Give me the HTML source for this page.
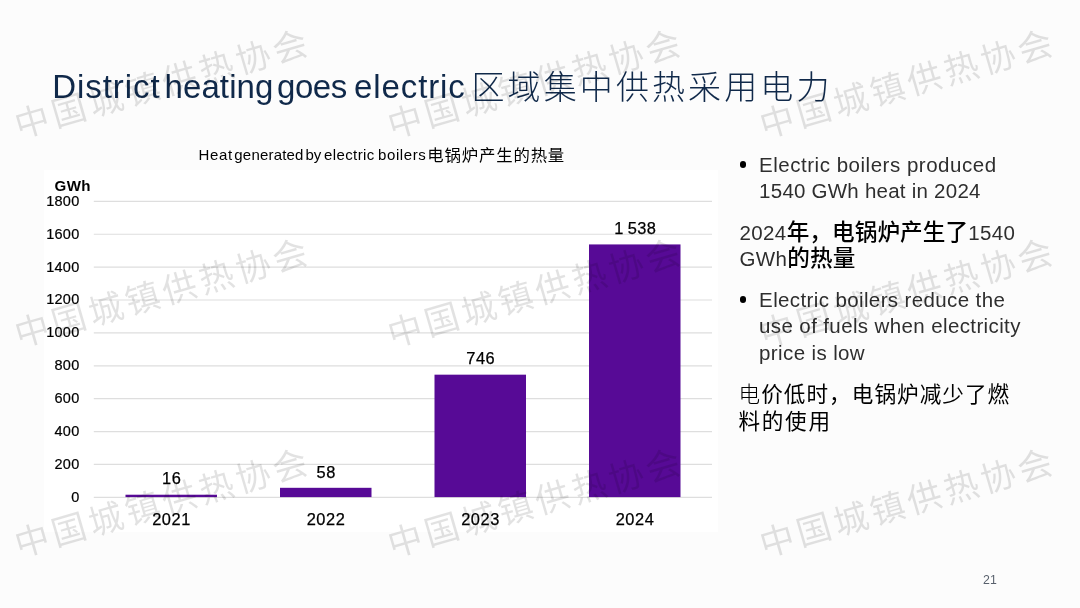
<!DOCTYPE html>
<html lang="en">
<head>
<meta charset="utf-8">
<title>District heating goes electric</title>
<style>
html,body{margin:0;padding:0;background:#fcfcfc;}
body{width:1080px;height:608px;overflow:hidden;position:relative;background:#fcfcfc;
  font-family:"Liberation Sans","Noto Sans CJK SC",sans-serif;color:#111;}
.abs{position:absolute;white-space:nowrap;}
h1{position:absolute;margin:0;left:0;top:67px;width:900px;height:40px;font-weight:400;font-size:33px;line-height:40px;
  color:#10294a;white-space:nowrap;}
h1 span{position:absolute;top:0;}
h1 .cn{font-weight:300;letter-spacing:3.1px;top:1px;}
#panel{position:absolute;left:43.8px;top:170.1px;width:674.7px;height:361.7px;background:#fff;}
#chart-title{left:0;top:145px;width:720px;height:20px;font-size:15px;line-height:20px;color:#000;}
#chart-title span{position:absolute;top:0;}
#chart-title .cn{font-size:16.4px;letter-spacing:0.85px;}
svg text{font-family:"Liberation Sans","Noto Sans CJK SC",sans-serif;fill:#000;}
#notes{position:absolute;left:739.5px;top:151.6px;width:320px;font-size:20.5px;line-height:26.7px;color:#2e2e2e;letter-spacing:0.38px;}
#notes p{margin:0 0 14.6px 0;white-space:nowrap;}
#notes p.b{padding-left:19.6px;position:relative;}
#notes p.b::before{content:"";position:absolute;left:0.2px;top:9.9px;width:6.4px;height:6.4px;border-radius:50%;background:#000;}
#notes .cn{font-size:21.6px;letter-spacing:1.05px;color:#000;line-height:1;}
#notes .lt{font-weight:300;}
#notes .cn2{font-size:22.6px;letter-spacing:0.1px;font-weight:500;}
.wm{position:absolute;white-space:nowrap;font-size:34.5px;line-height:40px;font-weight:400;letter-spacing:3.85px;
  color:rgba(0,0,0,0.115);transform:translate(-50%,-50%) rotate(-16.2deg);}
#pageno{left:982.9px;top:573px;font-size:12.3px;line-height:14px;color:#58606c;letter-spacing:0.3px;}
</style>
</head>
<body>
<h1><span style="left:52.2px;letter-spacing:0.95px">District</span> <span style="left:164.5px;letter-spacing:0.1px">heating</span> <span style="left:277px;letter-spacing:-0.45px">goes</span> <span style="left:354px;letter-spacing:0.9px">electric</span> <span class="cn" style="left:471.5px">区域集中供热采用电力</span></h1>
<div id="panel"></div>
<div id="chart-title" class="abs"><span style="left:198.6px;letter-spacing:0.6px">Heat</span> <span style="left:234.3px;letter-spacing:0.2px">generated</span> <span style="left:305.5px;letter-spacing:-0.2px">by</span> <span style="left:324px;letter-spacing:0.4px">electric</span> <span style="left:378px;letter-spacing:0.6px">boilers</span> <span class="cn" style="left:427.2px">电锅炉产生的热量</span></div>
<svg id="chart" class="abs" style="left:0;top:0" width="1080" height="608" viewBox="0 0 1080 608">
  <g stroke="#dedede" stroke-width="1.2">
    <line x1="93.8" x2="712" y1="201.34" y2="201.34"/>
    <line x1="93.8" x2="712" y1="234.23" y2="234.23"/>
    <line x1="93.8" x2="712" y1="267.12" y2="267.12"/>
    <line x1="93.8" x2="712" y1="300.01" y2="300.01"/>
    <line x1="93.8" x2="712" y1="332.90" y2="332.90"/>
    <line x1="93.8" x2="712" y1="365.79" y2="365.79"/>
    <line x1="93.8" x2="712" y1="398.68" y2="398.68"/>
    <line x1="93.8" x2="712" y1="431.57" y2="431.57"/>
    <line x1="93.8" x2="712" y1="464.46" y2="464.46"/>
    <line x1="93.8" x2="712" y1="497.35" y2="497.35"/>
  </g>
  <g fill="#570a96">
    <rect x="125.50" y="494.72" width="91.5" height="2.38"/>
    <rect x="280.00" y="487.81" width="91.5" height="9.29"/>
    <rect x="434.50" y="374.67" width="91.5" height="122.43"/>
    <rect x="589.00" y="244.43" width="91.5" height="252.67"/>
  </g>
  <g font-size="14.5" text-anchor="end" letter-spacing="0.3" stroke="#000" stroke-width="0.2">
    <text x="79.6" y="205.74">1800</text>
    <text x="79.6" y="238.63">1600</text>
    <text x="79.6" y="271.52">1400</text>
    <text x="79.6" y="304.41">1200</text>
    <text x="79.6" y="337.30">1000</text>
    <text x="79.6" y="370.19">800</text>
    <text x="79.6" y="403.08">600</text>
    <text x="79.6" y="435.97">400</text>
    <text x="79.6" y="468.86">200</text>
    <text x="79.6" y="501.75">0</text>
  </g>
  <text x="54.6" y="190.6" font-size="15.1" font-weight="700" letter-spacing="0.35">GWh</text>
  <g font-size="16.4" text-anchor="middle" letter-spacing="0.55" stroke="#000" stroke-width="0.25">
    <text x="171.75" y="484.42">16</text>
    <text x="326.25" y="477.51">58</text>
    <text x="480.75" y="364.37">746</text>
    <text x="635.25" y="234.13" letter-spacing="0.4" word-spacing="-1">1 538</text>
    <text x="171.55" y="525.4">2021</text>
    <text x="326.05" y="525.4">2022</text>
    <text x="480.55" y="525.4">2023</text>
    <text x="635.05" y="525.4">2024</text>
  </g>
</svg>
<div id="notes">
  <p class="b"><span style="letter-spacing:0.52px">Electric boilers produced</span><br><span style="letter-spacing:0.24px">1540 GWh heat in 2024</span></p>
  <p style="margin-bottom:13.6px">2024<span class="cn cn2">年，电锅炉产生了</span>1540<br>GWh<span class="cn cn2">的热量</span></p>
  <p class="b" style="margin-bottom:14.9px">Electric boilers reduce the<br>use of fuels when electricity<br>price is low</p>
  <p style="margin-left:-1px"><span class="cn"><span class="lt">电</span>价低时，电锅炉减少了燃</span><br><span class="cn" style="position:relative;top:1px;letter-spacing:1.7px">料的使用</span></p>
</div>
<div class="wm" style="left:163.2px;top:84.3px">中国城镇供热协会</div>
<div class="wm" style="left:535.7px;top:84.3px">中国城镇供热协会</div>
<div class="wm" style="left:908.1px;top:84.3px">中国城镇供热协会</div>
<div class="wm" style="left:163.2px;top:293.4px">中国城镇供热协会</div>
<div class="wm" style="left:535.7px;top:293.4px">中国城镇供热协会</div>
<div class="wm" style="left:908.1px;top:293.4px">中国城镇供热协会</div>
<div class="wm" style="left:163.2px;top:502.9px">中国城镇供热协会</div>
<div class="wm" style="left:535.7px;top:502.9px">中国城镇供热协会</div>
<div class="wm" style="left:908.1px;top:502.9px">中国城镇供热协会</div>
<div id="pageno" class="abs">21</div>
</body>
</html>
